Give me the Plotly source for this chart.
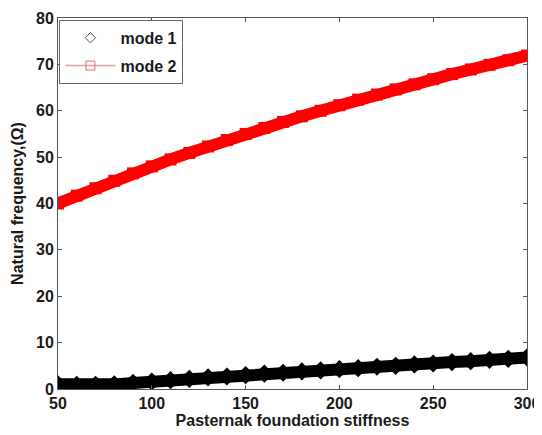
import plotly.graph_objects as go

stiffness = [50, 60, 70, 80, 90, 100, 110, 120, 130, 140, 150, 160, 170, 180, 190,
             200, 210, 220, 230, 240, 250, 260, 270, 280, 290, 300]
mode1 = [1.0, 0.9, 0.9, 1.0, 1.3, 1.6, 1.9, 2.2, 2.5, 2.7, 3.0, 3.3, 3.5, 3.8, 4.0,
         4.3, 4.5, 4.8, 5.0, 5.3, 5.5, 5.8, 6.0, 6.3, 6.5, 6.8]
mode2 = [40.0, 41.7, 43.3, 44.9, 46.5, 48.0, 49.5, 50.9, 52.3, 53.7, 55.0, 56.3, 57.6,
         58.8, 60.0, 61.2, 62.4, 63.5, 64.6, 65.7, 66.8, 67.9, 68.9, 69.9, 70.9, 71.9]
x_ticks = [50, 100, 150, 200, 250, 300]
y_ticks = [0, 10, 20, 30, 40, 50, 60, 70, 80]

FONT = "Liberation Sans, Arial"
TXT = "#1a1a1a"

fig = go.Figure()
# dense data bands
fig.add_trace(go.Scatter(x=stiffness, y=mode1, mode="lines+markers", showlegend=False,
                         line=dict(color="black", width=12),
                         marker=dict(symbol="diamond", size=14, color="black",
                                     line=dict(width=0))))
fig.add_trace(go.Scatter(x=stiffness, y=mode2, mode="lines+markers", showlegend=False,
                         line=dict(color="#ff0000", width=12),
                         marker=dict(symbol="square", size=12, color="#ff0000",
                                     line=dict(width=0))))
# legend entries
fig.add_trace(go.Scatter(x=[None], y=[None], mode="markers", name="mode 1",
                         legendgroup="g1",
                         marker=dict(symbol="diamond-open", size=8, color="#555555",
                                     line=dict(width=1))))
fig.add_trace(go.Scatter(x=[None], y=[None], mode="lines+markers", name="mode 2",
                         legendgroup="g2",
                         line=dict(color="#e8a0a0", width=1.5),
                         marker=dict(symbol="square-open", size=9, color="#e07070",
                                     line=dict(width=1))))

axis_common = dict(showline=True, linecolor="#555555", linewidth=1, mirror="ticks",
                   ticks="inside", ticklen=4, tickcolor="#555555", showgrid=False,
                   zeroline=False, automargin=False,
                   tickfont=dict(family=FONT, size=16, color=TXT, weight="bold"))

fig.update_layout(
    width=542, height=435,
    margin=dict(l=50, r=23, t=10, b=54),
    paper_bgcolor="white", plot_bgcolor="white",
    font=dict(family=FONT, color=TXT),
    xaxis=dict(range=[50, 300], tickvals=x_ticks,
               title=dict(text="Pasternak foundation stiffness", standoff=0,
                          font=dict(size=16, color=TXT, weight="bold")),
               **axis_common),
    yaxis=dict(range=[0, 80], tickvals=y_ticks,
               title=dict(text="Natural frequency,(Ω)", standoff=8,
                          font=dict(size=16, color=TXT, weight="bold")),
               **axis_common),
    legend=dict(x=0.003, y=0.995, xanchor="left", yanchor="top",
                bordercolor="#666666", borderwidth=1, bgcolor="white",
                font=dict(size=16, color=TXT, family=FONT, weight="bold"),
                itemwidth=50, tracegroupgap=4),
)

fig.write_html("out.html")
